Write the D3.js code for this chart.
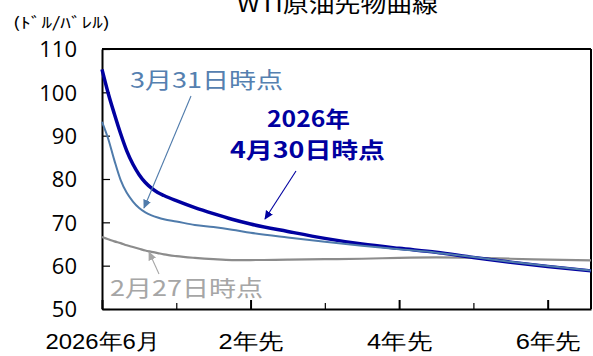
<!DOCTYPE html>
<html><head><meta charset="utf-8">
<script src="https://cdn.jsdelivr.net/npm/d3@7"></script>
<style>
html,body{margin:0;padding:0;background:#fff;}
svg{display:block;font-family:"Noto Sans CJK JP","Noto Sans",sans-serif;}
</style></head>
<body><svg id="c" width="593" height="356"></svg>
<script>
// months after 2026年6月
const months   = [0,1,2,3,4,5,6,7,8,9,10,12,15,18,21,24,30,36,42,48,54,60,66,72,79];
const apr30    = [105.3,99.8,95.0,90.5,86.5,83.4,81.0,79.2,77.9,76.9,76.2,75.0,73.4,72.0,70.7,69.6,67.9,66.3,65.0,64.0,63.1,61.9,60.8,59.8,58.8];
const mar31    = [93.2,89.3,84.3,79.8,76.8,74.8,73.3,72.3,71.6,71.1,70.7,70.2,69.4,68.9,68.3,67.6,66.5,65.5,64.6,63.8,63.0,62.0,60.9,59.9,58.9];
const feb27    = [66.6,66.1,65.6,65.2,64.7,64.3,63.9,63.5,63.2,62.9,62.6,62.2,61.8,61.5,61.3,61.3,61.4,61.5,61.6,61.8,61.9,61.8,61.6,61.4,61.2];
const yTicks   = [50,60,70,80,90,100,110];
const xTicks   = [0,12,24,36,48,60,72];
const xLabels  = {0:"2026年6月",24:"2年先",48:"4年先",72:"6年先"};
const title    = "WTI原油先物曲線";
const unit     = "(ﾄﾞﾙ/ﾊﾞﾚﾙ)";
const labMar31 = "3月31日時点";
const labApr30 = ["2026年","4月30日時点"];
const labFeb27 = "2月27日時点";

const svg = d3.select("#c");
const L=102, R=591, T=49, B=309;
const x = d3.scaleLinear().domain([0,79]).range([L,R]);
const y = d3.scaleLinear().domain([50,110]).range([B,T]);

// title
svg.append("text").attr("x",237).attr("y",12).attr("font-size",22)
  .attr("textLength",201).attr("lengthAdjust","spacingAndGlyphs").attr("fill","#000").text(title);
// unit
svg.append("text").attr("x",13).attr("y",28).attr("font-size",15)
  .attr("textLength",97).attr("lengthAdjust","spacingAndGlyphs").attr("fill","#000").text(unit);

// frame top/right
svg.append("line").attr("x1",L).attr("x2",R).attr("y1",T).attr("y2",T).attr("stroke","#000").attr("stroke-width",2);
svg.append("line").attr("x1",R).attr("x2",R).attr("y1",T).attr("y2",B).attr("stroke","#000").attr("stroke-width",2);

// y axis
const ya = svg.append("g").attr("transform",`translate(${L},0)`)
  .call(d3.axisLeft(y).tickValues(yTicks).tickSizeInner(-8).tickSizeOuter(0).tickPadding(25));
ya.select(".domain").attr("stroke","#000").attr("stroke-width",2);
ya.selectAll(".tick line").attr("stroke","#000").attr("stroke-width",1.2);
ya.selectAll(".tick text").attr("font-size",22).attr("fill","#000")
  .attr("font-family","'Open Sans','Noto Sans',sans-serif").attr("dy","0.36em");

// x axis
const xa = svg.append("g").attr("transform",`translate(0,${B})`)
  .call(d3.axisBottom(x).tickValues(xTicks).tickSizeInner(-9).tickSizeOuter(0).tickPadding(24)
    .tickFormat(d=>xLabels[d]||""));
xa.select(".domain").attr("stroke","#000").attr("stroke-width",2);
xa.selectAll(".tick line").attr("stroke","#000")
  .attr("y2",d=>xLabels[d]!==undefined?-9:-6)
  .attr("stroke-width",d=>xLabels[d]!==undefined?2:1.2);
xa.selectAll(".tick text").attr("font-size",22).attr("fill","#000").attr("dy","0.71em")
  .each(function(d){ if(xLabels[d]) d3.select(this).attr("textLength", d===0?114:65).attr("lengthAdjust","spacingAndGlyphs"); });

// lines
const line = d3.line().x((d,i)=>x(months[i])).y(d=>y(d)).curve(d3.curveMonotoneX);
svg.append("path").datum(feb27).attr("d",line).attr("fill","none").attr("stroke","#8c8c8c").attr("stroke-width",2.2);
svg.append("path").datum(apr30).attr("d",line).attr("fill","none").attr("stroke","#0000a0").attr("stroke-width",3.5);
svg.append("path").datum(mar31).attr("d",line).attr("fill","none").attr("stroke","#4f7bab").attr("stroke-width",2);

// arrows
const defs = svg.append("defs");
function marker(id,col){
  defs.append("marker").attr("id",id).attr("viewBox","0 0 10 10").attr("refX",9).attr("refY",5)
    .attr("markerWidth",9).attr("markerHeight",9).attr("markerUnits","userSpaceOnUse").attr("orient","auto")
    .append("path").attr("d","M0,0.5 L10,5 L0,9.5 Z").attr("fill",col);
}
marker("mb","#4f7bab"); marker("mn","#0000a0"); marker("mg","#a6a6a6");
function arrow(x1,y1,x2,y2,col,m){
  svg.append("line").attr("x1",x1).attr("y1",y1).attr("x2",x2).attr("y2",y2)
    .attr("stroke",col).attr("stroke-width",1.1).attr("marker-end",`url(#${m})`);
}
arrow(191,96,144,208,"#4f7bab","mb");
arrow(296,171,265,219,"#0000a0","mn");
arrow(159,274,149,252,"#a6a6a6","mg");

// annotation labels
svg.append("text").attr("x",130).attr("y",88).attr("font-size",22).attr("fill","#5580b0")
  .attr("textLength",153).attr("lengthAdjust","spacingAndGlyphs").text(labMar31);
svg.append("text").attr("x",267).attr("y",127).attr("font-size",22).attr("font-weight","bold").attr("fill","#0000a0")
  .attr("textLength",83).attr("lengthAdjust","spacingAndGlyphs").text(labApr30[0]);
svg.append("text").attr("x",230).attr("y",158).attr("font-size",22).attr("font-weight","bold").attr("fill","#0000a0")
  .attr("textLength",155).attr("lengthAdjust","spacingAndGlyphs").text(labApr30[1]);
svg.append("text").attr("x",110).attr("y",296).attr("font-size",22).attr("fill","#a6a6a6")
  .attr("textLength",153).attr("lengthAdjust","spacingAndGlyphs").text(labFeb27);
</script></body></html>
